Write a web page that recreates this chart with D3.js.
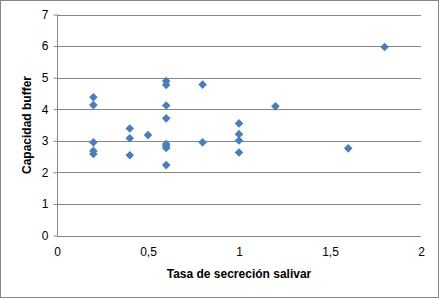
<!DOCTYPE html>
<html>
<head>
<meta charset="utf-8" />
<title>chart</title>
<script src="https://d3js.org/d3.v7.min.js"></script>
<style>
  body { margin: 0; background: #fff; }
  text { font-family: "Liberation Sans", Arial, sans-serif; fill: #000; }
</style>
</head>
<body>
<div id="chart"></div>
<script>
// tasa de secrecion salivar (x) / capacidad buffer (y)
const tasa = [0.2, 0.2, 0.2, 0.2, 0.2,
              0.4, 0.4, 0.4,
              0.5,
              0.6, 0.6, 0.6, 0.6, 0.6, 0.6, 0.6, 0.6,
              0.8, 0.8,
              1, 1, 1, 1,
              1.2, 1.6, 1.8];
const buffer = [4.38, 4.13, 2.95, 2.68, 2.58,
                3.39, 3.08, 2.54,
                3.18,
                4.89, 4.77, 4.12, 3.71, 2.9, 2.84, 2.77, 2.23,
                4.78, 2.95,
                3.55, 3.21, 3.01, 2.63,
                4.09, 2.76, 5.97];
const xTicks = [0, 0.5, 1, 1.5, 2];
const yTicks = [0, 1, 2, 3, 4, 5, 6, 7];

const W = 439, H = 298;
const svg = d3.select("#chart").append("svg")
  .attr("width", W).attr("height", H);

svg.append("rect")
  .attr("x", 0.5).attr("y", 0.5)
  .attr("width", W - 1).attr("height", H - 1)
  .attr("fill", "#fff").attr("stroke", "#868686");

const x = d3.scaleLinear().domain([0, 2]).range([57, 421]);
const y = d3.scaleLinear().domain([0, 7]).range([235.5, 14.5]);

// gridlines
svg.append("g").selectAll("line").data(yTicks.slice(1)).join("line")
  .attr("x1", x(0)).attr("x2", x(2))
  .attr("y1", d => Math.round(y(d)) + 0.5).attr("y2", d => Math.round(y(d)) + 0.5)
  .attr("stroke", "#868686").attr("stroke-width", 1);

// y axis
const yAxis = svg.append("g")
  .attr("transform", `translate(${x(0) + 0.5},0)`)
  .call(d3.axisLeft(y).tickValues(yTicks).tickSize(4).tickPadding(5).tickFormat(d3.format("d")));
yAxis.select(".domain").attr("stroke", "#868686").attr("d", `M0,${y(7)}V${y(0)}`);
yAxis.selectAll(".tick line").attr("stroke", "#868686");
yAxis.selectAll("text").style("font-size", "12px").attr("fill", "#000");

// x axis
const fmt = d => String(d).replace(".", ",");
const xAxis = svg.append("g")
  .attr("transform", `translate(0,${Math.round(y(0)) + 0.5})`)
  .call(d3.axisBottom(x).tickValues(xTicks).tickSize(0).tickPadding(11).tickFormat(fmt));
xAxis.select(".domain").attr("stroke", "#868686").attr("d", `M${x(0)},0H${x(2)}`);
xAxis.selectAll("text").style("font-size", "12px").attr("fill", "#000");

// points: square diamonds like Excel markers
const r = 4.3;
const diamond = `M0,${-r}L${r},0L0,${r}L${-r},0Z`;
svg.append("g").selectAll("path").data(tasa.map((t, i) => [t, buffer[i]])).join("path")
  .attr("d", diamond)
  .attr("transform", d => `translate(${x(d[0])},${y(d[1])})`)
  .attr("fill", "#4a7ebb");

// titles
svg.append("text")
  .attr("x", (x(0) + x(2)) / 2).attr("y", 278)
  .attr("text-anchor", "middle")
  .style("font-size", "12px").style("font-weight", "bold")
  .text("Tasa  de secreción salivar");

svg.append("text")
  .attr("transform", `translate(31,${(y(0) + y(7)) / 2}) rotate(-90)`)
  .attr("text-anchor", "middle")
  .style("font-size", "12px").style("font-weight", "bold")
  .text("Capacidad  buffer");
</script>
</body>
</html>
